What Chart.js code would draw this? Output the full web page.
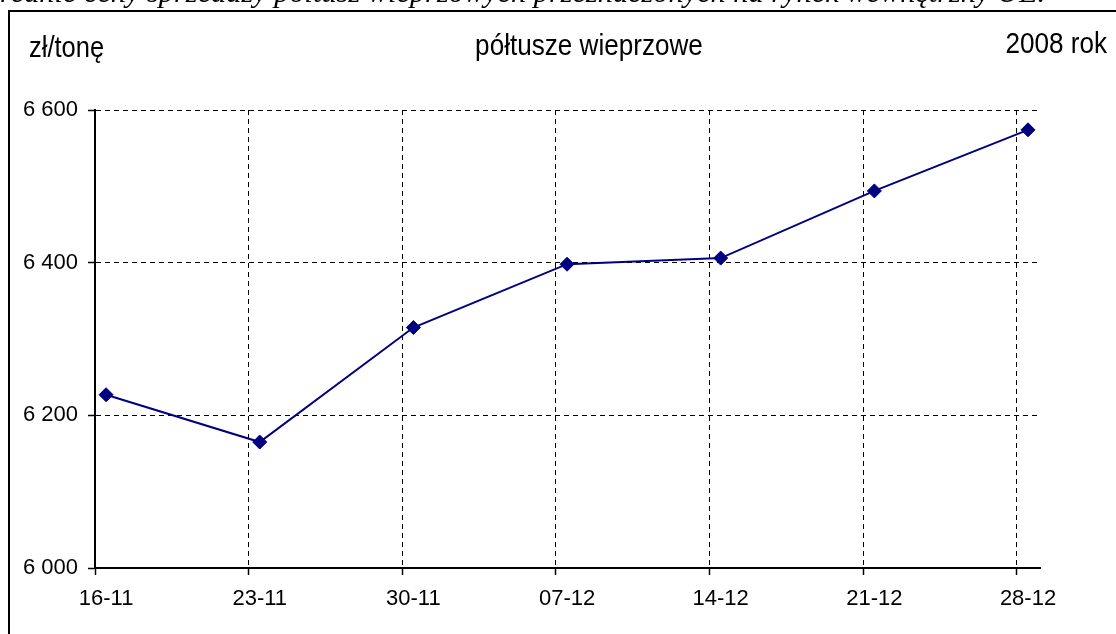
<!DOCTYPE html>
<html>
<head>
<meta charset="utf-8">
<script src="https://cdn.jsdelivr.net/npm/chart.js@4.4.0/dist/chart.umd.min.js"></script>
<style>
  html, body { margin: 0; padding: 0; background: #fff; }
  #wrap { position: relative; width: 1116px; height: 634px; overflow: hidden; }
  canvas { display: block; }
</style>
</head>
<body>
<div id="wrap"><canvas id="c" width="1116" height="634"></canvas></div>
<script>
// ---- data ----
const categories = ['16-11', '23-11', '30-11', '07-12', '14-12', '21-12', '28-12'];
const prices = [6227, 6165, 6315, 6398, 6406, 6494, 6574];
const yTicks = { min: 6000, max: 6600, step: 200 };
const unitLabel = 'zł/tonę';
const titleText = 'półtusze wieprzowe';
const yearLabel = '2008 rok';
const captionLead = 'Ś';
const captionRest = 'rednie ceny sprzedaży półtusz wieprzowych przeznaczonych na rynek wewnętrzny UE.';

const SANS = '"Liberation Sans", Arial, sans-serif';

function stretchedText(ctx, text, x, y, align, sx) {
  ctx.save();
  ctx.translate(x, y);
  ctx.scale(sx, 1);
  ctx.textAlign = align;
  ctx.fillText(text, 0, 0);
  ctx.restore();
}

const decorPlugin = {
  id: 'decor',
  beforeDraw(chart) {
    const ctx = chart.ctx;
    ctx.save();
    ctx.fillStyle = '#fff';
    ctx.fillRect(0, 0, chart.width, chart.height);
    ctx.restore();
  },
  afterDraw(chart) {
    const ctx = chart.ctx;
    ctx.save();
    // caption (cut off at top)
    ctx.font = 'italic 100px "Liberation Serif", "Times New Roman", serif';
    const w100 = ctx.measureText(captionRest).width;
    const size = 100 * 1045 / w100;
    ctx.font = 'italic ' + size.toFixed(2) + 'px "Liberation Serif", "Times New Roman", serif';
    const leadW = ctx.measureText(captionLead).width;
    ctx.fillStyle = '#000';
    ctx.textBaseline = 'alphabetic';
    ctx.textAlign = 'left';
    ctx.fillText(captionLead + captionRest, -leadW, 2);

    // frame
    ctx.strokeStyle = '#000';
    ctx.lineWidth = 2;
    ctx.strokeRect(9, 11, 1200, 700);

    // header texts (tall, slightly condensed as in the original)
    ctx.font = '29px ' + SANS;
    ctx.fillStyle = '#000';
    stretchedText(ctx, unitLabel, 29, 57, 'left', 0.88);
    stretchedText(ctx, titleText, 589, 55, 'center', 0.9);
    stretchedText(ctx, yearLabel, 1107, 53, 'right', 0.9);
    ctx.restore();
  }
};

const fmt = v => {
  const s = String(Math.round(v));
  return s.replace(/\B(?=(\d{3})+(?!\d))/g, ' ');
};

new Chart(document.getElementById('c'), {
  type: 'line',
  data: {
    datasets: [{
      data: categories.map((c, i) => ({ x: i, y: prices[i] })),
      xAxisID: 'x',
      yAxisID: 'y',
      borderColor: '#000080',
      backgroundColor: '#000080',
      borderWidth: 2,
      pointStyle: 'rectRot',
      pointRadius: 7,
      pointHoverRadius: 7,
      pointBackgroundColor: '#000080',
      pointBorderColor: '#000080',
      pointBorderWidth: 1,
      tension: 0,
      fill: false
    }]
  },
  options: {
    responsive: false,
    animation: false,
    events: [],
    layout: { padding: { left: 0, right: 76, top: 110, bottom: 0 } },
    plugins: { legend: { display: false }, tooltip: { enabled: false }, title: { display: false } },
    scales: {
      xg: {
        type: 'linear',
        position: 'bottom',
        weight: 0,
        min: 0,
        max: 6.15,
        ticks: { stepSize: 1, includeBounds: false, display: false },
        grid: {
          display: true,
          color: '#000',
          lineWidth: 1,
          drawTicks: true,
          tickLength: 7,
          tickColor: '#000',
          tickWidth: 1.5,
          tickBorderDash: []
        },
        border: { display: true, color: '#000', width: 2, dash: [5, 4] },
        afterFit(scale) { scale.height = 0; }
      },
      x: {
        type: 'linear',
        position: 'bottom',
        weight: 1,
        min: -0.072,
        max: 6.078,
        ticks: {
          stepSize: 1,
          includeBounds: false,
          autoSkip: false,
          maxRotation: 0,
          padding: 18,
          color: '#000',
          font: { family: SANS, size: 22 },
          callback: v => categories[v] !== undefined ? categories[v] : ''
        },
        grid: { display: false, drawTicks: false },
        border: { display: false },
        afterFit(scale) { scale.height = 66; }
      },
      y: {
        type: 'linear',
        position: 'left',
        min: yTicks.min,
        max: yTicks.max,
        ticks: {
          stepSize: yTicks.step,
          padding: 10,
          color: '#000',
          font: { family: SANS, size: 22 },
          callback: v => fmt(v)
        },
        grid: {
          color: '#000',
          lineWidth: 1,
          drawTicks: true,
          tickLength: 7,
          tickColor: '#000',
          tickWidth: 1.5,
          tickBorderDash: []
        },
        border: { display: true, color: '#000', width: 2, dash: [5, 4] },
        afterFit(scale) { scale.width = 95; }
      }
    }
  },
  plugins: [decorPlugin]
});
</script>
</body>
</html>
